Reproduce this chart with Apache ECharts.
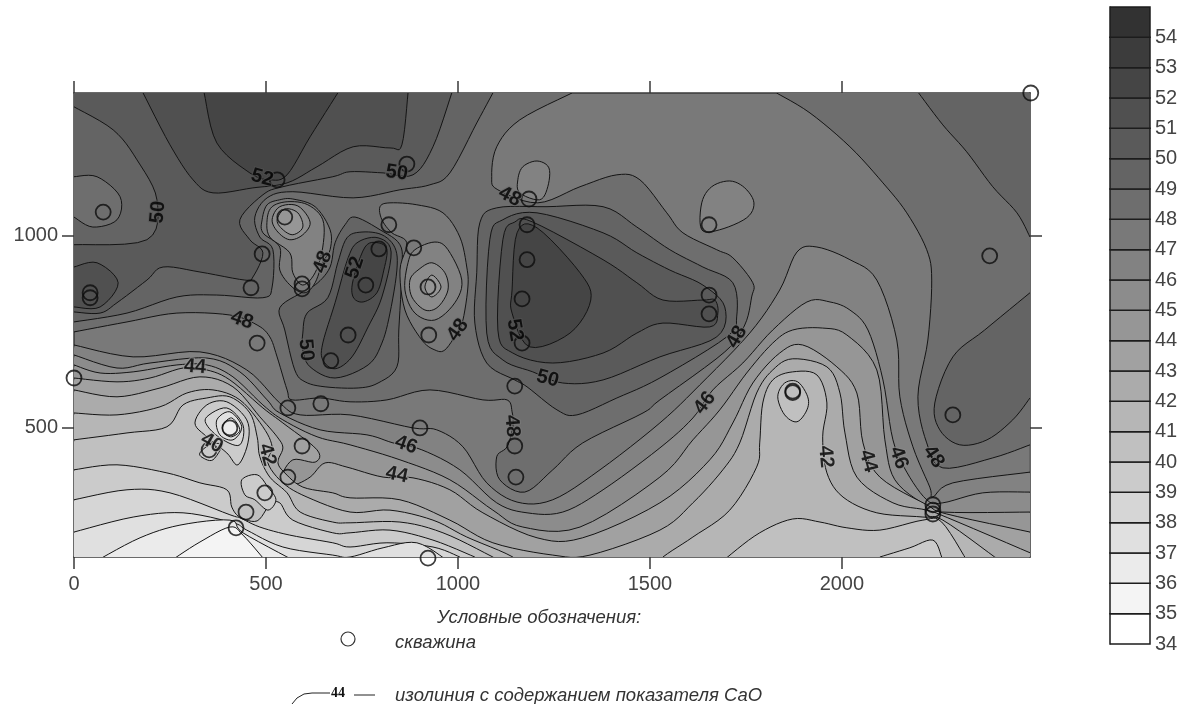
<!DOCTYPE html>
<html><head><meta charset="utf-8"><style>html,body{margin:0;padding:0;background:#fff}#c{width:1183px;height:704px}</style>
<script src="https://cdn.jsdelivr.net/npm/echarts@6/dist/echarts.min.js"></script></head><body><div id="c"></div>
<script>
const iso47=[[0,716],[154,685],[328,698],[450,651],[536,565],[589,534],[719,534],[883,500],[945,495],[1013,451],[1075,357],[1154,307],[1247,313],[1370,391],[1526,513],[1630,612],[1760,747],[1838,859],[1883,958],[1935,971],[2021,938],[2091,885],[2143,729],[2151,581],[2185,451],[2229,346],[2237,320],[2289,357],[2490,385]];
const iso46=[[0,690],[112,656],[198,669],[346,682],[432,646],[503,573],[536,539],[641,495],[763,482],[831,461],[906,443],[1005,391],[1101,305],[1180,279],[1273,281],[1378,339],[1526,448],[1612,526],[1664,599],[1742,669],[1820,755],[1909,828],[1969,828],[2021,807],[2068,755],[2107,625],[2133,469],[2169,385],[2221,313],[2263,305],[2367,331],[2490,333]];
const iso45=[[0,664],[68,643],[154,646],[268,664],[346,664],[414,633],[492,560],[544,521],[633,477],[719,456],[849,417],[979,365],[1091,286],[1169,242],[1318,242],[1526,372],[1612,469],[1682,547],[1752,643],[1820,721],[1872,755],[1950,760],[2013,742],[2091,651],[2112,469],[2138,365],[2216,300],[2263,281],[2490,281]];
const iso44=[[0,630],[112,620],[198,630],[284,656],[346,651],[406,625],[492,552],[544,513],[633,443],[628,411],[570,417],[542,372],[570,352],[615,372],[654,409],[711,398],[805,372],[883,370],[979,339],[1065,279],[1206,214],[1325,214],[1526,305],[1656,417],[1716,513],[1768,617],[1838,695],[1898,716],[1987,659],[2039,591],[2055,461],[2099,372],[2221,300],[2273,276],[2490,229]];
const iso43=[[0,599],[112,581],[224,604],[328,633],[414,607],[484,529],[529,477],[544,448],[531,411],[549,383],[596,346],[674,331],[719,318],[849,313],[979,260],[1091,201],[1247,169],[1344,169],[1526,234],[1612,305],[1690,391],[1734,461],[1778,591],[1820,651],[1872,680],[1961,659],[1995,591],[2008,487],[2039,372],[2133,305],[2221,286],[2276,266],[2490,175]];
const iso42=[[0,539],[112,534],[224,555],[294,591],[362,599],[432,573],[492,503],[516,451],[505,409],[544,357],[607,320],[719,281],[823,286],[935,260],[1023,216],[1143,164],[1213,110],[1474,110],[1534,164],[1612,216],[1708,286],[1778,398],[1786,461],[1794,565],[1820,625],[1872,646],[1935,638],[1961,565],[1950,477],[1961,383],[2003,320],[2091,279],[2211,268],[2263,260],[2398,164]];
const iso41=[[0,469],[138,487],[242,503],[284,560],[346,578],[406,581],[458,539],[477,477],[484,425],[510,372],[555,331],[589,281],[674,255],[719,253],[849,255],[961,227],[1091,164],[1213,100],[1630,100],[1700,162],[1786,227],[1872,263],[1943,255],[2013,240],[2099,234],[2211,260],[2260,255],[2325,156]];
const iso40west=[[0,391],[112,404],[242,383],[328,357],[398,339],[411,294],[432,268],[477,258],[510,300],[536,305],[570,260],[674,227],[719,227],[823,234],[935,208],[1044,164]];
const iso40east=[[2099,164],[2177,188],[2237,208],[2260,164]];
const iso40tongue=[[437,365],[477,378],[505,346],[526,313],[505,286],[471,313],[445,326]];
const iso39=[[0,313],[138,339],[250,331],[406,274],[432,266],[484,242],[562,221],[674,201],[719,190],[815,201],[935,190],[1005,164]];
const iso38=[[0,229],[154,268],[284,279],[414,253],[450,234],[544,190],[674,169],[719,164],[805,188],[893,201],[971,156]];
const iso37=[[62,156],[172,214],[276,247],[406,260],[440,227],[570,156]];
const iso36=[[255,156],[328,203],[406,242],[440,221],[497,156]];
const ring40=[[315,513],[346,560],[398,568],[450,521],[453,461],[427,404],[398,435],[346,477]];
const ring39=[[346,529],[398,552],[440,508],[432,456],[388,469],[349,503]];
const ring38=[[372,521],[406,542],[437,503],[414,469],[380,482]];
const ring37=[[388,508],[411,526],[432,495],[411,477],[391,487]];
const ring40b=[[328,435],[354,456],[385,456],[362,417],[336,422]];
const lobe41=[[1833,581],[1851,617],[1885,620],[1911,581],[1909,547],[1883,516],[1851,534]];
const lobe47a=[[1635,1086],[1661,1128],[1708,1143],[1747,1125],[1771,1086],[1752,1047],[1682,1016],[1635,1016]];
const lobe47b=[[1156,1146],[1169,1180],[1206,1195],[1237,1177],[1234,1128],[1213,1094],[1161,1112]];
const iso48main=[[0,750],[138,776],[268,799],[406,794],[477,768],[510,737],[529,685],[555,599],[568,573],[641,578],[719,568],[815,573],[927,599],[1065,573],[1128,573],[1141,542],[1143,503],[1128,451],[1101,425],[1109,365],[1174,333],[1247,391],[1325,461],[1482,539],[1526,573],[1695,698],[1747,768],[1765,841],[1768,878],[1716,943],[1674,964],[1586,1008],[1544,1060],[1474,1146],[1414,1159],[1318,1128],[1208,1086],[1104,1120],[1088,1154],[1101,1232],[1161,1302],[1297,1372]];
const iso48east=[[1830,1372],[1917,1320],[2021,1232],[2107,1138],[2169,1060],[2221,964],[2234,885],[2224,729],[2198,581],[2221,461],[2263,396],[2393,422],[2490,456]];
const iso49west=[[0,776],[138,799],[268,841],[372,846],[492,839],[516,867],[518,964],[484,997],[471,1049],[503,1099],[570,1115],[727,1099],[849,1120],[927,1133],[979,1164],[1049,1294],[1091,1372]];
const ridge49=[[536,813],[596,854],[635,878],[667,919],[680,982],[706,1029],[732,1049],[797,1016],[849,977],[854,911],[846,755],[841,659],[792,617],[740,604],[654,607],[602,620],[575,651],[549,755]];
const basin49=[[1057,1034],[1101,1073],[1232,1076],[1378,1076],[1466,1023],[1552,964],[1638,919],[1716,878],[1726,789],[1700,737],[1526,630],[1414,578],[1310,534],[1258,547],[1180,607],[1148,625],[1075,669],[1044,773],[1049,904]];
const iso49ne=[[2200,1372],[2263,1289],[2325,1219],[2393,1128],[2456,1060],[2490,997]];
const iso49se=[[2490,852],[2372,755],[2289,685],[2242,565],[2255,495],[2307,456],[2378,469],[2445,521],[2490,578]];
const iso50west=[[0,802],[68,799],[112,826],[190,885],[232,919],[328,906],[445,885],[466,893],[492,956],[458,990],[432,1042],[492,1107],[544,1128],[674,1154],[719,1167],[805,1164],[883,1159],[935,1232],[984,1372]];
const ridge50=[[596,747],[607,799],[661,839],[687,930],[711,995],[750,1010],[802,1003],[836,969],[841,911],[823,799],[802,721],[766,664],[680,630],[615,659],[596,703]];
const basin50=[[1083,990],[1117,1042],[1206,1060],[1378,1008],[1466,956],[1552,911],[1638,872],[1695,815],[1674,737],[1526,685],[1378,625],[1273,617],[1195,646],[1117,677],[1075,747]];
const hole50=[[0,1336],[102,1276],[164,1198],[216,1094],[190,990],[0,977]];
const hole49=[[0,1154],[60,1154],[120,1102],[112,1042],[49,1023],[0,1049]];
const iso51top=[[180,1372],[250,1237],[310,1146],[362,1112],[466,1125],[555,1138],[633,1180],[727,1232],[823,1229],[854,1237],[870,1372]];
const iso51left=[[0,919],[60,930],[115,878],[68,815],[0,815]];
const ridge51=[[648,721],[680,826],[714,943],[740,984],[792,995],[826,958],[802,841],[766,763],[724,685],[680,654],[648,677]];
const basin51=[[1117,990],[1148,1036],[1195,1036],[1378,938],[1466,878],[1534,833],[1638,833],[1669,833],[1677,799],[1656,763],[1534,773],[1466,747],[1378,695],[1247,669],[1143,695],[1104,755]];
const iso52top=[[339,1372],[372,1242],[458,1164],[510,1146],[555,1159],[615,1258],[687,1372]];
const ridge52=[[758,971],[792,982],[815,964],[807,911],[789,852],[753,828],[727,841],[727,885]];
const basin52=[[1154,1008],[1141,859],[1141,799],[1187,711],[1292,747],[1346,833],[1318,904],[1206,1021]];
const hole48a=[[490,1042],[503,1081],[536,1094],[570,1096],[628,1076],[667,1016],[667,964],[648,932],[628,878],[602,852],[568,867],[536,911],[536,971],[492,1008]];
const hole47a=[[503,1042],[516,1076],[557,1089],[609,1081],[648,1042],[648,971],[628,904],[596,872],[570,904],[562,956],[510,997]];
const hole46a=[[516,1042],[536,1076],[583,1078],[615,1036],[596,1003],[562,990],[531,1010]];
const hole45a=[[529,1042],[549,1070],[583,1060],[596,1023],[570,1003],[542,1018]];
const hole48b=[[797,1076],[823,1086],[893,1081],[961,1060],[1005,997],[1023,919],[1026,867],[1013,781],[997,747],[966,703],[940,703],[906,729],[862,807],[849,911],[867,982],[828,1008],[802,1042]];
const hole47b=[[870,930],[888,964],[940,984],[974,964],[1010,885],[992,826],[940,781],[888,799],[862,859]];
const hole46b=[[896,911],[932,930],[966,904],[974,859],[948,815],[914,807],[880,841],[875,885]];
const hole45b=[[932,898],[956,867],[932,841],[914,867]];

const wells=[[2492,1372],[867,1187],[529,1146],[1185,1096],[76,1062],[549,1049],[1654,1029],[820,1029],[1180,1029],[885,969],[794,966],[490,953],[2385,948],[1180,938],[461,865],[594,875],[594,862],[760,872],[922,867],[1167,836],[1654,846],[1654,797],[42,852],[42,839],[924,742],[714,742],[1167,721],[477,721],[669,675],[0,630],[1148,609],[557,552],[643,563],[1872,596],[1872,592],[2289,534],[901,500],[406,500],[594,453],[352,443],[1148,453],[1151,372],[557,372],[497,331],[2237,300],[2237,286],[2237,276],[448,281],[422,240],[922,161]];

// contour labels: x, y, text, rotation, band under the label
const isoLabels=[[490,1151,'52',-15,51],[841,1164,'50',-8,50],[219,1062,'50',85,50],[1135,1102,'48',-28,48],[648,932,'48',70,47],[732,917,'52',72,51],[437,781,'48',-20,48],[604,703,'50',-85,49],[1000,755,'48',55,48],[1148,755,'52',-80,51],[1234,628,'50',-15,49],[1726,737,'48',60,48],[1643,565,'46',52,46],[315,659,'44',-5,44],[359,461,'40',-30,40],[503,430,'42',-75,41],[865,456,'46',-20,45],[841,378,'44',-12,43],[1141,505,'48',-85,47],[1958,425,'42',-85,41],[2068,414,'44',-75,43],[2148,422,'46',-70,45],[2239,425,'48',-55,47]];

const xTicks=[0,500,1000,1500,2000], xTopTicks=[0,500,1000,1500,2000], yTicks=[500,1000];
const scaleLevels=[34,35,36,37,38,39,40,41,42,43,44,45,46,47,48,49,50,51,52,53,54];
const scaleLabels=[34,35,36,37,38,39,40,41,42,43,44,45,46,47,48,49,50,51,52,53,54];
const bandColors=['#ffffff','#f4f4f4','#ebebeb','#e0e0e0','#d6d6d6','#cbcbcb','#c0c0c0','#b6b6b6','#ababab','#a1a1a1','#969696','#8c8c8c','#828282','#797979','#6e6e6e','#646464','#5a5a5a','#505050','#454545','#3c3c3c','#323232'];
const band=l=>bandColors[l-34];

const S=[[2600,60],[-100,60]];
const regions=[
 [46,iso47,S],[45,iso46,S],[44,iso45,S],[43,iso44,S],[42,iso43,S],[41,iso42,S],[40,iso41,S],
 [39,iso40west,[[1044,60],[-100,60]]],[39,iso40east,[[2260,60],[2099,60]]],[39,iso40tongue],
 [38,iso39,[[1005,60],[-100,60]]],[37,iso38,[[971,60],[-100,60]]],[36,iso37,[[570,60],[62,60]]],[35,iso36,[[497,60],[255,60]]],
 [39,ring40],[38,ring39],[37,ring38],[36,ring37],[39,ring40b],[40,lobe41],[46,lobe47a],[46,lobe47b],
 [48,iso48main,[[1297,1480],[-100,1480],[-100,750]]],[48,iso48east,[[2600,456],[2600,1480],[1830,1480]]],
 [49,iso49west,[[1091,1480],[-100,1480],[-100,776]]],[49,ridge49],[49,basin49],[49,iso49ne,[[2600,997],[2600,1480],[2200,1480]]],[49,iso49se,[[2600,578],[2600,852]]],
 [50,iso50west,[[984,1480],[-100,1480],[-100,802]]],[50,ridge50],[50,basin50],
 [49,hole50,[[-100,977],[-100,1336]]],[48,hole49,[[-100,1049],[-100,1154]]],
 [51,iso51top,[[870,1480],[180,1480]]],[51,iso51left,[[-100,815],[-100,919]]],[51,ridge51],[51,basin51],
 [52,iso52top,[[687,1480],[339,1480]]],[52,ridge52],[52,basin52],
 [47,hole48a],[46,hole47a],[45,hole46a],[44,hole45a],[47,hole48b],[46,hole47b],[45,hole46b],[44,hole45b]
];

function spline(p,closed){
 const n=p.length,out=[],steps=6;
 const at=i=>closed?p[(i+n)%n]:p[Math.max(0,Math.min(n-1,i))];
 const segs=closed?n:n-1;
 for(let i=0;i<segs;i++){
  const a=at(i-1),b=at(i),c=at(i+1),d=at(i+2);
  for(let s=0;s<steps;s++){
   const t=s/steps,t2=t*t,t3=t2*t;
   out.push([0,1].map(k=>0.5*(2*b[k]+(c[k]-a[k])*t+(2*a[k]-5*b[k]+4*c[k]-d[k])*t2+(3*b[k]-a[k]-3*c[k]+d[k])*t3)));
  }
 }
 if(!closed)out.push(p[n-1]);
 return out;
}
const axisColor='#3a3a3a', labelFont='"Liberation Sans",Arial,sans-serif';
const chart=echarts.init(document.getElementById('c'),null,{renderer:'canvas'});
chart.setOption({
 animation:false,
 grid:[{left:74,top:93,right:153,bottom:147,show:true,backgroundColor:band(47),borderWidth:0},
       {left:1110,top:7,right:33,bottom:60}],
 xAxis:[
  {type:'value',gridIndex:0,min:0,max:2490,position:'bottom',splitLine:{show:false},
   axisLine:{onZero:false,lineStyle:{color:axisColor,width:1.5}},
   axisTick:{length:12,customValues:xTicks,lineStyle:{color:axisColor,width:1.5}},
   axisLabel:{customValues:xTicks,margin:17,fontSize:20,color:'#444',fontFamily:labelFont,showMinLabel:true,formatter:v=>String(v)}},
  {type:'value',gridIndex:0,min:0,max:2490,position:'top',splitLine:{show:false},
   axisLine:{onZero:false,lineStyle:{color:axisColor,width:1.5}},
   axisTick:{length:12,customValues:xTopTicks,lineStyle:{color:axisColor,width:1.5}},axisLabel:{show:false}},
  {type:'value',gridIndex:1,min:0,max:1,show:false}
 ],
 yAxis:[
  {type:'value',gridIndex:0,min:164,max:1372,position:'left',splitLine:{show:false},
   axisLine:{onZero:false,lineStyle:{color:axisColor,width:1.5}},
   axisTick:{length:12,customValues:yTicks,lineStyle:{color:axisColor,width:1.5}},
   axisLabel:{customValues:yTicks,margin:16,fontSize:20,color:'#444',fontFamily:labelFont,formatter:v=>String(v)}},
  {type:'value',gridIndex:0,min:164,max:1372,position:'right',splitLine:{show:false},
   axisLine:{onZero:false,lineStyle:{color:'#666',width:2}},
   axisTick:{length:12,customValues:yTicks,lineStyle:{color:axisColor,width:1.5}},axisLabel:{show:false}},
  {type:'value',gridIndex:1,min:34,max:55,position:'right',splitLine:{show:false},
   axisLine:{lineStyle:{color:'#222',width:1}},
   axisTick:{show:false},
   axisLabel:{customValues:scaleLabels,margin:5,fontSize:20,color:'#444',fontFamily:labelFont,formatter:v=>String(v)}}
 ],
 series:[
  {type:'custom',xAxisIndex:0,yAxisIndex:0,clip:true,z:2,progressive:0,silent:true,
   data:regions.map((r,i)=>[i]),
   encode:{x:-1,y:-1},
   renderItem(params,api){
    const r=regions[api.value(0)];
    const closed=!r[2];
    const pts=spline(r[1],closed).concat(r[2]||[]).map(p=>api.coord(p));
    return {type:'polygon',shape:{points:pts},style:{fill:band(r[0]),stroke:'#141414',lineWidth:1}};
   }},
  {type:'scatter',xAxisIndex:0,yAxisIndex:0,clip:false,z:4,symbol:'circle',symbolSize:15,silent:true,
   itemStyle:{color:'rgba(0,0,0,0)',borderColor:'#0c0c0c',borderWidth:1.8},data:wells},
  {type:'scatter',xAxisIndex:0,yAxisIndex:0,clip:false,z:5,symbolSize:2,silent:true,itemStyle:{color:'rgba(0,0,0,0)'},
   data:isoLabels.map(l=>({value:[l[0],l[1]],label:{show:true,position:'inside',formatter:l[2],rotate:l[3],color:'#000',fontSize:20,fontWeight:'bold',fontFamily:labelFont,textBorderColor:band(l[4]),textBorderWidth:2}}))},
  {type:'custom',xAxisIndex:2,yAxisIndex:2,z:2,progressive:0,silent:true,
   data:scaleLevels.map(l=>[l]),encode:{x:-1,y:-1},
   renderItem(params,api){
    const l=api.value(0),a=api.coord([0,l+1]),b=api.coord([1,l]);
    return {type:'rect',shape:{x:a[0],y:a[1],width:b[0]-a[0],height:b[1]-a[1]},style:{fill:band(l),stroke:'#1c1c1c',lineWidth:1.5}};
   }}
 ],
 graphic:[
  {type:'text',left:437,top:608,style:{text:'Условные обозначения:',font:'italic 18.5px "Liberation Sans"',fill:'#333'}},
  {type:'circle',shape:{cx:348,cy:639,r:7},style:{fill:'#fff',stroke:'#333',lineWidth:1.2}},
  {type:'text',left:395,top:633,style:{text:'скважина',font:'italic 18.5px "Liberation Sans"',fill:'#333'}},
  {type:'polyline',shape:{points:[[292,704],[297,698],[304,694],[312,693],[330,693]]},style:{fill:'none',stroke:'#222',lineWidth:1}},
  {type:'text',left:331,top:686,style:{text:'44',font:'bold 14px "Liberation Serif"',fill:'#111'}},
  {type:'line',shape:{x1:354,y1:695,x2:375,y2:695},style:{stroke:'#222',lineWidth:1}},
  {type:'text',left:395,top:686,style:{text:'изолиния с содержанием показателя СаО',font:'italic 18.5px "Liberation Sans"',fill:'#333'}}
 ]
});
</script></body></html>
